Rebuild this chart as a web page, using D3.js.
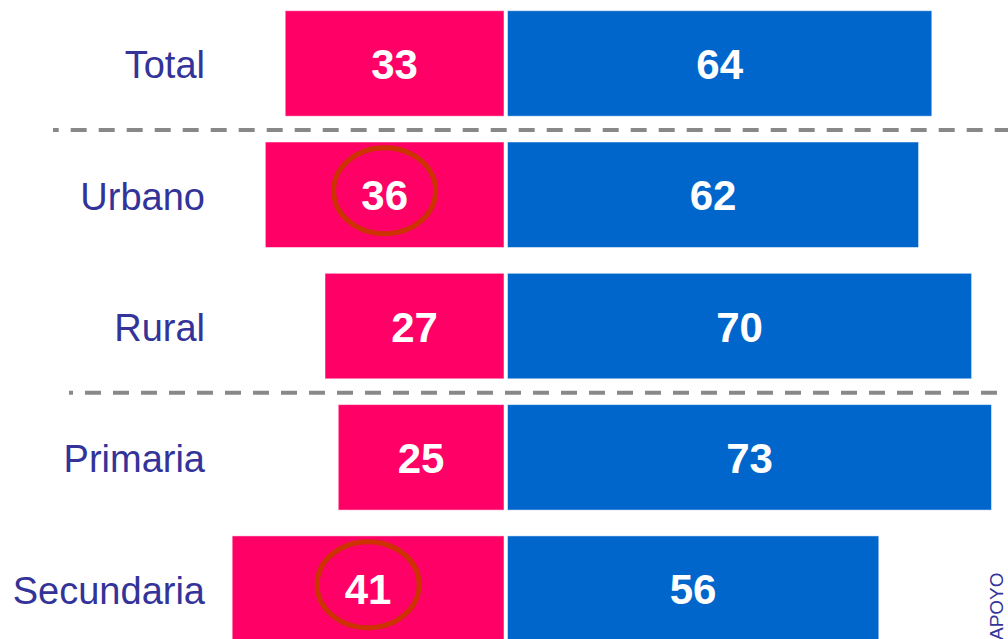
<!DOCTYPE html>
<html>
<head>
<meta charset="utf-8">
<script src="https://cdn.jsdelivr.net/npm/d3@7"></script>
<style>
  html, body { margin: 0; padding: 0; background: #fff; }
  svg { display: block; }
  .cat { font-family: "Liberation Sans", Arial, sans-serif; fill: #333399; }
  .val { font-family: "Liberation Sans", Arial, sans-serif; font-weight: bold; fill: #fff; }
</style>
</head>
<body>
<svg id="chart" width="1008" height="639"></svg>
<script>
const categories = ["Total", "Urbano", "Rural", "Primaria", "Secundaria"];
const leftValues = [33, 36, 27, 25, 41];
const rightValues = [64, 62, 70, 73, 56];
const highlighted = ["Urbano", "Secundaria"];
// dashed separator goes below these rows
const separators = ["Total", "Rural"];
const sourceText = "APOYO";

const width = 1008, height = 639;
const center = 504;   // right edge of pink bars
const gap = 3.5;

const svg = d3.select("#chart");

const y = d3.scaleBand()
    .domain(categories)
    .range([10.7, 641.4])
    .paddingInner(0.1965)
    .paddingOuter(0);

const x = d3.scaleLinear()
    .domain([0, 100])
    .range([0, 663]);

const rows = categories.map((c, i) => ({ cat: c, left: leftValues[i], right: rightValues[i] }));

// separators
const sepStart = { "Total": 53, "Rural": 69 };
const sepOffset = { "Total": 10.3, "Rural": 12 };
svg.append("g").selectAll("line")
    .data(separators)
    .join("line")
    .attr("x1", d => sepStart[d])
    .attr("x2", width)
    .attr("y1", d => y(d) + y.bandwidth() + y.step() * y.paddingInner() / 2 + 1)
    .attr("y2", d => y(d) + y.bandwidth() + y.step() * y.paddingInner() / 2 + 1)
    .attr("stroke", "#888")
    .attr("stroke-width", 4)
    .attr("stroke-dasharray", "16 12")
    .attr("stroke-dashoffset", d => sepOffset[d]);

const g = svg.append("g").selectAll("g")
    .data(rows)
    .join("g");

g.append("rect")
    .attr("x", d => center - x(d.left))
    .attr("y", d => y(d.cat))
    .attr("width", d => x(d.left))
    .attr("height", y.bandwidth())
    .attr("fill", "#FF0066")
    .attr("stroke", "#fff")
    .attr("stroke-opacity", 0.5)
    .attr("stroke-width", 1);

g.append("rect")
    .attr("x", center + gap)
    .attr("y", d => y(d.cat))
    .attr("width", d => x(d.right))
    .attr("height", y.bandwidth())
    .attr("fill", "#0066CC")
    .attr("stroke", "#fff")
    .attr("stroke-opacity", 0.5)
    .attr("stroke-width", 1);

g.append("text")
    .attr("class", "cat")
    .attr("x", 205)
    .attr("y", d => y(d.cat) + y.bandwidth() / 2 + 15)
    .attr("text-anchor", "end")
    .attr("font-size", 38)
    .text(d => d.cat);

g.append("text")
    .attr("class", "val")
    .attr("x", d => center - x(d.left) / 2)
    .attr("y", d => y(d.cat) + y.bandwidth() / 2 + 15.5)
    .attr("text-anchor", "middle")
    .attr("font-size", 42)
    .text(d => d.left);

g.append("text")
    .attr("class", "val")
    .attr("x", d => center + gap + x(d.right) / 2)
    .attr("y", d => y(d.cat) + y.bandwidth() / 2 + 15.5)
    .attr("text-anchor", "middle")
    .attr("font-size", 42)
    .text(d => d.right);

// highlight rings
svg.append("g").selectAll("ellipse")
    .data(rows.filter(d => highlighted.includes(d.cat)))
    .join("ellipse")
    .attr("cx", d => center - x(d.left) / 2)
    .attr("cy", d => y(d.cat) + y.bandwidth() / 2 - 4)
    .attr("rx", 51)
    .attr("ry", 43)
    .attr("fill", "none")
    .attr("stroke", "#CC3300")
    .attr("stroke-width", 5);

svg.append("text")
    .attr("class", "cat")
    .attr("transform", "translate(1003,640) rotate(-90)")
    .attr("font-size", 19)
    .text(sourceText);
</script>
</body>
</html>
